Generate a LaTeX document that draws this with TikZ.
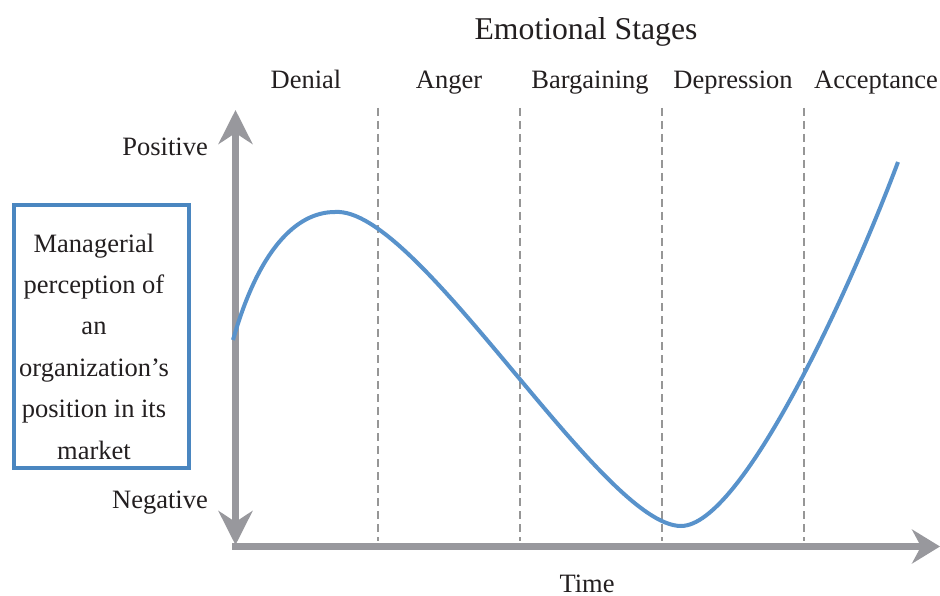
\documentclass[tikz,border=0pt]{standalone}
\usepackage{fontspec}
\setmainfont{Liberation Serif}
\usetikzlibrary{arrows.meta}
\definecolor{axisgray}{RGB}{152,152,157}
\definecolor{dashgray}{RGB}{150,150,150}
\definecolor{curveblue}{RGB}{88,146,203}
\definecolor{boxblue}{RGB}{74,134,192}
\definecolor{txt}{RGB}{35,31,32}
\tikzset{
  axisline/.style={draw=axisgray, line width=7pt},
  stageline/.style={draw=dashgray, line width=1.4pt, dash pattern=on 8pt off 5pt},
  lbl/.style={inner sep=0pt, font=\fontsize{26.5}{30}\selectfont, text=txt},
  ttl/.style={inner sep=0pt, font=\fontsize{31.7}{36}\selectfont, text=txt},
  curve/.style={draw=curveblue, line width=4pt},
  framebox/.style={draw=boxblue, line width=4pt, minimum width=175pt, minimum height=262pt, inner sep=0pt}
}
\begin{document}
\begin{tikzpicture}[x=1pt,y=-1pt]
\useasboundingbox (0,0) rectangle (940,596);
% axes
\coordinate (ytop) at (235.5,110);
\coordinate (ybot) at (235.5,545);
\coordinate (xstart) at (232,546.5);
\coordinate (xend) at (940,546.5);
\coordinate (ymid) at (235.5,330);
\draw[axisline, -{Stealth[length=34pt,width=34pt,inset=11pt]}] (ymid) -- (ytop);
\draw[axisline, -{Stealth[length=34pt,width=34pt,inset=11pt]}] (ymid) -- (ybot);
\draw[axisline, -{Stealth[length=28pt,width=34pt,inset=9pt]}] (xstart) -- (xend);
% stage separators
\foreach \x/\n in {378/a,520/b,662/c,804/d}{
  \coordinate (s\n top) at (\x,108);
  \coordinate (s\n bot) at (\x,541);
  \draw[stageline] (s\n top) -- (s\n bot);
}
% titles
\node[ttl, anchor=base] (title) at (586,40) {Emotional Stages};
\node[lbl, anchor=base] (denial) at (306,89) {Denial};
\node[lbl, anchor=base] (anger) at (449,89) {Anger};
\node[lbl, anchor=base] (barg) at (590,89) {Bargaining};
\node[lbl, anchor=base] (depr) at (733,89) {Depression};
\node[lbl, anchor=base] (acc) at (876,89) {Acceptance};
\node[lbl, anchor=base east] (pos) at (208,156) {Positive};
\node[lbl, anchor=base east] (neg) at (208,508) {Negative};
\node[lbl, anchor=base] (time) at (587,592) {Time};
% box
\node[framebox] (box) at (101,336.5) {};
\node[lbl, align=center, font=\fontsize{26.5}{41.4}\selectfont] (boxtext) at (94,346.5)
  {Managerial\\perception of\\an\\organization’s\\position in its\\market};
% curve
\coordinate (c0) at (233,340);
\coordinate (c1) at (335,212);
\coordinate (c2) at (681,526);
\coordinate (c3) at (898,162);
\draw[curve] (c0) .. controls (258,252) and (295,212) .. (c1)
  .. controls (418,206) and (602,526) .. (c2)
  .. controls (742,526) and (850,290) .. (c3);
\end{tikzpicture}
\end{document}
